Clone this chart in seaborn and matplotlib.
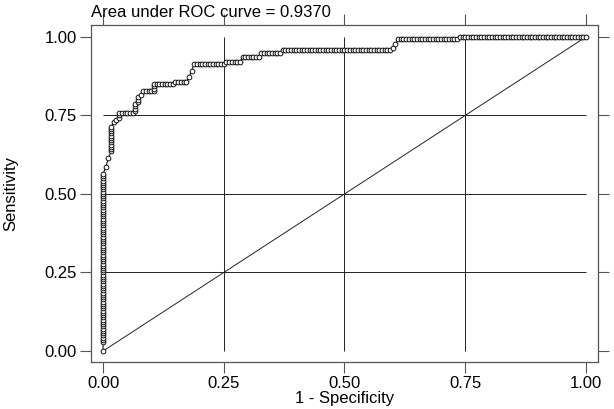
import numpy as np
import pandas as pd
import matplotlib
matplotlib.use("Agg")
import matplotlib.pyplot as plt
import seaborn as sns

# ROC cutpoints as runs: each run = `run_len` cutpoints, each adding
# run_neg false positives and run_pos true positives
run_neg = [0, 0, 1, 1, 1, 0, 1, 1, 1, 0, 1, 1, 0, 1, 0, 1, 1, 1, 0,
           1, 1, 1, 1, 1, 1, 1, 1, 1, 1, 1, 1, 1, 1, 1, 1, 1, 1, 1, 1]
run_pos = [4, 1, 3, 4, 3, 1, 2, 1, 1, 1, 0, 1, 1, 1, 1, 1, 2, 0, 1,
           0, 1, 0, 2, 3, 3, 0, 1, 0, 2, 0, 2, 0, 1, 0, 1, 2, 2, 0, 1]
run_len = [1, 75, 1, 1, 1, 11, 1, 1, 1, 2, 5, 1, 3, 1, 2, 1, 1, 4, 3,
           7, 1, 4, 1, 1, 1, 11, 1, 5, 1, 6, 1, 7, 1, 40, 1, 1, 1, 22, 1]
run_tail_neg = 47  # final flat run at sensitivity 1

auc_text = "Area under ROC curve = 0.9370"
ticks = [0.0, 0.25, 0.5, 0.75, 1.0]
tick_labels = ["0.00", "0.25", "0.50", "0.75", "1.00"]

neg = np.concatenate([[0], np.repeat(run_neg, run_len), np.ones(run_tail_neg)])
pos = np.concatenate([[0], np.repeat(run_pos, run_len), np.zeros(run_tail_neg)])
fp = np.cumsum(neg)
tp = np.cumsum(pos)
df = pd.DataFrame({"fpr": fp / fp[-1], "tpr": tp / tp[-1]})

plt.rcParams["font.family"] = ["Liberation Sans", "DejaVu Sans"]

fig = plt.figure(figsize=(6.14, 4.09), dpi=100)
ax = fig.add_axes([0.1482, 0.1149, 0.8257, 0.824])

ax.hlines(ticks[1:4], 0, 1, color="#222222", lw=0.7, zorder=1)
ax.vlines(ticks[1:4], 0, 1, color="#222222", lw=0.7, zorder=1)
ax.plot([0, 1], [0, 1], color="#222222", lw=0.7, zorder=2)

sns.lineplot(data=df, x="fpr", y="tpr", sort=False, estimator=None,
             color="black", lw=0.7, marker="o", markersize=3.4,
             markerfacecolor="white", markeredgecolor="#111111",
             markeredgewidth=0.7, ax=ax, zorder=3)

ax.set_xlim(-0.025, 1.025)
ax.set_ylim(-0.035, 1.038)
ax.set_xticks(ticks)
ax.set_xticklabels(tick_labels)
ax.set_yticks(ticks)
ax.set_yticklabels(tick_labels)
ax.tick_params(direction="out", length=8, width=0.8, color="#555555",
               labelsize=12, top=True, right=True, pad=2)
for s in ax.spines.values():
    s.set_color("#555555")
    s.set_linewidth(0.9)

ax.set_xlabel("1 - Specificity", fontsize=12, labelpad=0)
ax.set_ylabel("Sensitivity", fontsize=12, labelpad=19)
ax.set_title(auc_text, fontsize=12, loc="left", pad=6, x=0.0)

fig.savefig("out.png", dpi=100)
